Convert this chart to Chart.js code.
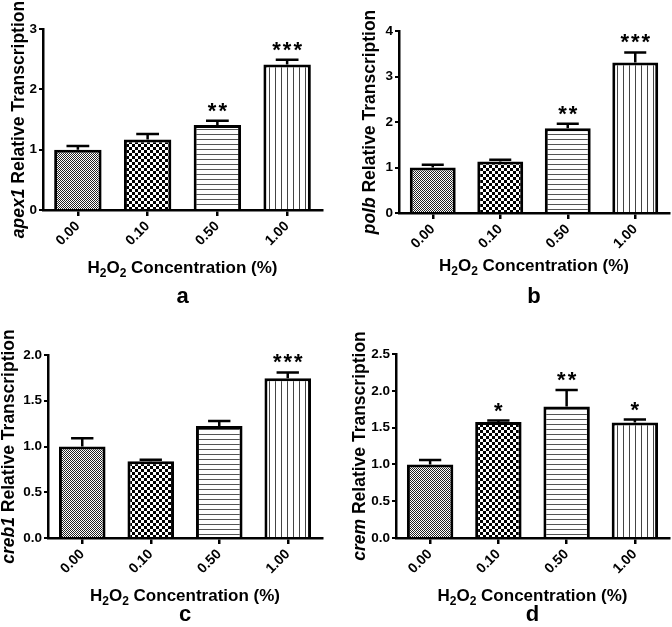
<!DOCTYPE html>
<html>
<head>
<meta charset="utf-8">
<script src="https://cdn.jsdelivr.net/npm/chart.js@4.4.1/dist/chart.umd.min.js"></script>
<style>
  body { margin: 0; background: #fff; width: 672px; height: 627px; position: relative; overflow: hidden; }
  canvas { position: absolute; }
</style>
</head>
<body>
<canvas id="panelA" width="336" height="310" style="left:0;top:0"></canvas>
<canvas id="panelB" width="336" height="310" style="left:336px;top:0"></canvas>
<canvas id="panelC" width="336" height="317" style="left:0;top:310px"></canvas>
<canvas id="panelD" width="336" height="317" style="left:336px;top:310px"></canvas>
<script>
// --- DATA ---
const doses = ['0.00', '0.10', '0.50', '1.00'];

const apex1Mean = [1.00, 1.17, 1.41, 2.41];
const apex1Sem = [0.06, 0.09, 0.07, 0.08];
const apex1Stars = ['', '', '**', '***'];
const apex1Ticks = [0, 1, 2, 3];

const polbMean = [1.00, 1.13, 1.86, 3.31];
const polbSem = [0.06, 0.04, 0.10, 0.22];
const polbStars = ['', '', '**', '***'];
const polbTicks = [0, 1, 2, 3, 4];

const creb1Mean = [1.00, 0.84, 1.225, 1.745];
const creb1Sem = [0.09, 0.015, 0.055, 0.065];
const creb1Stars = ['', '', '', '***'];
const creb1Ticks = [0, 0.5, 1.0, 1.5, 2.0];

const cremMean = [1.00, 1.575, 1.785, 1.57];
const cremSem = [0.06, 0.02, 0.225, 0.04];
const cremStars = ['', '*', '**', '*'];
const cremTicks = [0, 0.5, 1.0, 1.5, 2.0, 2.5];

const FONT = "'Liberation Sans', Arial, sans-serif";

// fill patterns, one per dose
function makePattern(kind) {
    const c = document.createElement('canvas');
    const g = c.getContext('2d');
    if (kind === 'fine') {
        c.width = c.height = 2;
        g.fillStyle = '#fff'; g.fillRect(0, 0, 2, 2);
        g.fillStyle = '#222'; g.fillRect(0, 0, 1, 1); g.fillRect(1, 1, 1, 1);
    } else if (kind === 'check') {
        c.width = c.height = 6;
        g.fillStyle = '#fff'; g.fillRect(0, 0, 6, 6);
        g.fillStyle = '#000'; g.fillRect(0, 0, 3, 3); g.fillRect(3, 3, 3, 3);
    } else if (kind === 'hline') {
        c.width = 4; c.height = 5;
        g.fillStyle = '#fff'; g.fillRect(0, 0, 4, 5);
        g.fillStyle = '#555'; g.fillRect(0, 4, 4, 1);
    } else {
        c.width = 6; c.height = 4;
        g.fillStyle = '#fff'; g.fillRect(0, 0, 6, 4);
        g.fillStyle = '#444'; g.fillRect(5, 0, 1, 4);
    }
    return g.createPattern(c, 'repeat');
}
const fills = [makePattern('fine'), makePattern('check'), makePattern('hline'), makePattern('vline')];

function drawParts(ctx, parts, x, y) {
    // parts: [text, font, dy]
    let total = 0;
    parts.forEach(p => { ctx.font = p[1]; total += ctx.measureText(p[0]).width; });
    let cx = x - total / 2;
    parts.forEach(p => {
        ctx.font = p[1];
        ctx.fillText(p[0], cx, y + p[2]);
        cx += ctx.measureText(p[0]).width;
    });
}

function makePanel(id, gene, letter, mean, sem, stars, ticks, box) {
    const el = document.getElementById(id);
    const W = el.width, H = el.height;
    const decimals = ticks.some(t => t % 1 !== 0) ? 1 : 0;

    const panelPlugin = {
        id: 'panel_' + id,
        afterDatasetsDraw(chart) {
            const ctx = chart.ctx, y = chart.scales.y;
            const meta = chart.getDatasetMeta(0);
            ctx.save();
            ctx.strokeStyle = '#000';
            ctx.lineWidth = 2.5;
            mean.forEach((m, i) => {
                const bar = meta.data[i];
                const top = y.getPixelForValue(m);
                const end = y.getPixelForValue(m + sem[i]);
                const half = bar.width * 0.24;
                ctx.beginPath();
                ctx.moveTo(bar.x, top); ctx.lineTo(bar.x, end);
                ctx.moveTo(bar.x - half, end); ctx.lineTo(bar.x + half, end);
                ctx.stroke();
            });
            ctx.restore();
        },
        afterDraw(chart) {
            const ctx = chart.ctx, y = chart.scales.y, area = chart.chartArea;
            const meta = chart.getDatasetMeta(0);
            ctx.save();
            ctx.fillStyle = '#000';
            ctx.textBaseline = 'alphabetic';
            // significance stars
            ctx.textAlign = 'center';
            ctx.font = 'bold 22px ' + FONT;
            ctx.letterSpacing = '2px';
            stars.forEach((s, i) => {
                if (!s) return;
                const end = y.getPixelForValue(mean[i] + sem[i]);
                ctx.fillText(s, meta.data[i].x + 1, end - 3);
            });
            ctx.letterSpacing = '0px';
            ctx.textAlign = 'left';
            // x title with subscripts
            const big = 'bold 17px ' + FONT, small = 'bold 12px ' + FONT;
            drawParts(ctx, [['H', big, 0], ['2', small, 4], ['O', big, 0], ['2', small, 4],
                [' Concentration (%)', big, 0]], (area.left + area.right) / 2, area.bottom + box.xTitle + 6);
            // y title, gene in italics
            ctx.save();
            ctx.translate(box.yTitleX, (area.top + area.bottom) / 2);
            ctx.rotate(-Math.PI / 2);
            drawParts(ctx, [[gene, 'italic bold 17.5px ' + FONT, 0], [' Relative Transcription', 'bold 17.5px ' + FONT, 0]], 0, 5);
            ctx.restore();
            // panel letter
            ctx.textAlign = 'center';
            ctx.font = 'bold 22px ' + FONT;
            ctx.fillText(letter, (area.left + area.right) / 2, area.bottom + box.letter + 8);
            ctx.restore();
        }
    };

    return new Chart(el, {
        type: 'bar',
        data: {
            labels: doses,
            datasets: [{
                data: mean,
                backgroundColor: fills,
                borderColor: '#000',
                borderWidth: 3,
                borderSkipped: 'start',
                barPercentage: 0.68,
                categoryPercentage: 1
            }]
        },
        options: {
            responsive: false,
            animation: false,
            events: [],
            layout: { padding: { top: box.top, right: W - box.right, bottom: 0, left: 0 } },
            plugins: { legend: { display: false }, tooltip: { enabled: false } },
            scales: {
                x: {
                    afterFit: s => { s.height = H - box.bottom; },
                    border: { display: true, color: '#000', width: 2.5 },
                    grid: { display: true, drawOnChartArea: false, offset: false, color: '#000', lineWidth: 2.5, tickLength: 6 },
                    ticks: {
                        color: '#000', font: { family: FONT, size: 14, weight: 'bold' },
                        minRotation: 45, maxRotation: 45, autoSkip: false, padding: 2
                    }
                },
                y: {
                    min: ticks[0],
                    max: ticks[ticks.length - 1],
                    afterFit: s => { s.width = box.left; },
                    afterBuildTicks: s => { s.ticks = ticks.map(v => ({ value: v })); },
                    border: { display: true, color: '#000', width: 2.5 },
                    grid: { display: true, drawOnChartArea: false, color: '#000', lineWidth: 2, tickLength: 4 },
                    ticks: {
                        color: '#000', font: { family: FONT, size: 13.5, weight: 'bold' }, padding: 2,
                        callback: v => Number(v).toFixed(decimals)
                    }
                }
            }
        },
        plugins: [panelPlugin]
    });
}

makePanel('panelA', 'apex1', 'a', apex1Mean, apex1Sem, apex1Stars, apex1Ticks,
    { left: 43, top: 29, bottom: 210, right: 322, yTitleX: 19, xTitle: 57, letter: 85 });
makePanel('panelB', 'polb', 'b', polbMean, polbSem, polbStars, polbTicks,
    { left: 63, top: 31, bottom: 213, right: 333, yTitleX: 34, xTitle: 52, letter: 82 });
makePanel('panelC', 'creb1', 'c', creb1Mean, creb1Sem, creb1Stars, creb1Ticks,
    { left: 48, top: 45, bottom: 228, right: 322, yTitleX: 9, xTitle: 57, letter: 75 });
makePanel('panelD', 'crem', 'd', cremMean, cremSem, cremStars, cremTicks,
    { left: 60, top: 44, bottom: 228, right: 333, yTitleX: 24, xTitle: 57, letter: 75 });
</script>
</body>
</html>
